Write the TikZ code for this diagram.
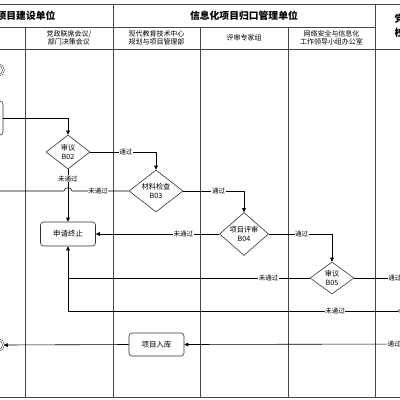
\documentclass[tikz,border=0pt]{standalone}
\usepackage{fontspec}
\setmainfont{Noto Sans CJK SC}
\usetikzlibrary{arrows.meta,shapes.geometric}
\begin{document}
\begin{tikzpicture}[x=1pt,y=-1pt,
  lane/.style={draw=black!72, line width=0.8pt},
  conn/.style={draw=black, line width=0.6pt},
  arr/.style={conn, -{Triangle[length=4pt,width=3.6pt]}},
  dia/.style={shape=diamond, draw=black!80, line width=0.6pt, inner sep=0pt,
    label={[font=\fontsize{7.2}{9}\selectfont, align=center]center:#1}},
  box/.style={rectangle, rounded corners=3pt, draw=black!80, line width=0.6pt,
    minimum width=55, minimum height=24, font=\fontsize{7.5}{9}\selectfont},
  ring/.style={circle, draw=black!80, line width=0.5pt, double, double distance=1.2pt, minimum size=11, inner sep=0pt},
  lbl/.style={fill=white, inner sep=0.6pt, font=\fontsize{6.5}{7}\selectfont},
  ttl/.style={font=\fontsize{9.8}{12}\selectfont\bfseries},
  sub/.style={font=\fontsize{7}{8.5}\selectfont, align=center}]
\useasboundingbox (0,0) rectangle (400,400);
\clip (0,0) rectangle (400,400);
\fill[white] (0,0) rectangle (400,400);

% lanes
\draw[lane] (-5,4) -- (405,4);
\draw[lane] (-5,27) -- (375,27);
\draw[lane] (-5,49) -- (405,49);
\draw[lane] (-5,397) -- (405,397);
\draw[lane] (25,27) -- (25,397);
\draw[lane] (113,4) -- (113,397);
\draw[lane] (200,27) -- (200,397);
\draw[lane] (288,27) -- (288,397);
\draw[lane] (375,4) -- (375,397);

% headers
\node[ttl] (t1) at (26,16) {项目建设单位};
\node[ttl] (t2) at (244,16) {信息化项目归口管理单位};
\node[ttl, anchor=west, align=left, font=\fontsize{9.8}{14}\selectfont\bfseries] (t3) at (391,26) {党\\校};
\node[sub] (s1) at (69,38) {党政联席会议/\\部门决策会议};
\node[sub] (s2) at (156.5,38) {现代教育技术中心\\规划与项目管理部};
\node[sub] (s3) at (244,38) {评审专家组};
\node[sub] (s4) at (331.5,38) {网络安全与信息化\\工作领导小组办公室};

% nodes
\node[ring] (start) at (-2,70) {};
\node[box, minimum width=44, minimum height=34] (lbox) at (-19,118) {};
\node[dia={审议\\B02}, minimum width=44, minimum height=34] (b02) at (68,152) {};
\node[dia={材料检查\\B03}, minimum width=54, minimum height=42] (b03) at (156,191) {};
\node[dia={项目评审\\B04}, minimum width=49, minimum height=43] (b04) at (244,234) {};
\node[dia={审议\\B05}, minimum width=44, minimum height=32] (b05) at (332,278) {};
\node[dia={}, minimum width=44, minimum height=32] (b06) at (420,311) {};
\node[box] (stop) at (68,234) {申请终止};
\node[box, minimum height=23] (ruku) at (156.5,344.5) {项目入库};
\node[ring] (endc) at (-2,345) {};
\coordinate (r1) at (410,278);
\coordinate (r2) at (410,344);

% connectors
\draw[arr] (lbox.east) -| (b02.north);
\draw[arr] (b02.east) -| node[lbl, pos=0.27] {通过} (b03.north);
\draw[arr] (b02.south) -- node[lbl, pos=0.18] {未通过} (stop.north);
\draw[conn] (b03.west) -- node[lbl, pos=0.54] {未通过} (72,191)
  .. controls (72,186.5) and (64,186.5) .. (64,191) -- (-10,191);
\draw[arr] (b03.east) -| node[lbl, pos=0.29] {通过} (b04.north);
\draw[arr] (b04.west) -- node[lbl, pos=0.29] {未通过} (stop.east);
\draw[arr] (b04.east) -| node[lbl, pos=0.26] {通过} (b05.north);
\draw[arr] (b05.west) -- node[lbl, pos=0.17] {未通过} (68,278) -- (stop.south);
\draw[conn] (b06.west) -- node[lbl, pos=0.19] {未通过} (68,311) -- (68,278);
\draw[conn] (b05.east) -- node[lbl, pos=0.73] {通过} (r1);
\draw[arr] (r2) -- node[lbl, pos=0.07] {通过} (ruku.east);
\draw[arr] (ruku.west) -- (endc.east);
\end{tikzpicture}
\end{document}
